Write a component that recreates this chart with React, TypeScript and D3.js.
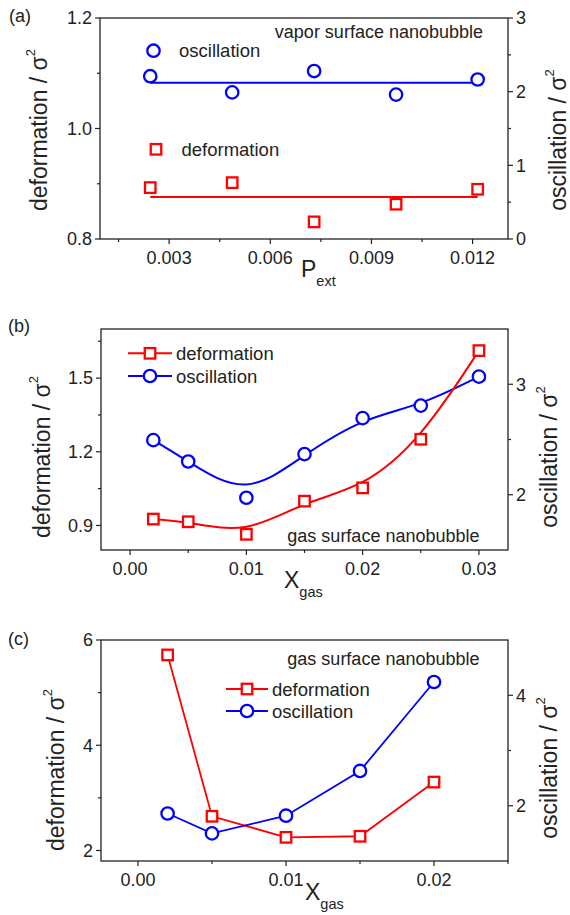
import React from "react";
import * as d3 from "d3";

// ---------- Panel (a): vapor surface nanobubble ----------
const aPext = [0.00244, 0.00487, 0.0073, 0.00973, 0.01215];
const aDeformation = [0.893, 0.902, 0.831, 0.863, 0.89];
const aOscillation = [2.21, 1.99, 2.28, 1.96, 2.165];
const aLeftTicks = [0.8, 1.0, 1.2];
const aLeftMinor = [0.9, 1.1];
const aRightTicks = [0, 1, 2, 3];
const aRightMinor = [0.5, 1.5, 2.5];
const aXTicks = [0.003, 0.006, 0.009, 0.012];
const aXMinor = [0.0015, 0.0045, 0.0075, 0.0105];

// ---------- Panel (b): gas surface nanobubble (fitted) ----------
const bXgas = [0.002, 0.005, 0.01, 0.015, 0.02, 0.025, 0.03];
const bDeformation = [0.926, 0.915, 0.864, 0.999, 1.053, 1.251, 1.612];
const bOscillation = [2.494, 2.301, 1.973, 2.368, 2.693, 2.807, 3.069];
const bLeftTicks = [0.9, 1.2, 1.5];
const bLeftMinor = [1.05, 1.35, 1.65];
const bRightTicks = [2, 3];
const bRightMinor = [2.5];
const bXTicks = [0, 0.01, 0.02, 0.03];
const bXMinor = [0.005, 0.015, 0.025];

// ---------- Panel (c): gas surface nanobubble ----------
const cXgas = [0.002, 0.005, 0.01, 0.015, 0.02];
const cDeformation = [5.716, 2.65, 2.25, 2.27, 3.3];
const cOscillation = [1.86, 1.5, 1.82, 2.63, 4.24];
const cLeftTicks = [2, 4, 6];
const cLeftMinor = [3, 5];
const cRightTicks = [2, 4];
const cRightMinor = [3];
const cXTicks = [0, 0.01, 0.02];
const cXMinor = [0.005, 0.015, 0.025];

const RED = "#ff0000";
const BLUE = "#0000ff";
const INK = "#222";
const FONT = "'Liberation Sans', Arial, Helvetica, sans-serif";
const TICK_FS = 18;

type Frame = { l: number; r: number; t: number; b: number };

function Axes({
  f, x, yl, yr, xt, xm, ylt, ylm, yrt, yrm, xfmt, ylfmt, yrfmt,
}: any) {
  const maj = 5, min = 3;
  return (
    <g>
      <rect x={f.l} y={f.t} width={f.r - f.l} height={f.b - f.t} fill="none" stroke={INK} strokeWidth={1.3} />
      {xt.map((v: number) => (
        <g key={"xt" + v}>
          <line x1={x(v)} x2={x(v)} y1={f.b} y2={f.b + maj} stroke={INK} strokeWidth={1.2} />
          <text x={x(v)} y={f.b + 25} textAnchor="middle" fontSize={TICK_FS} fill={INK}>{xfmt(v)}</text>
        </g>
      ))}
      {xm.map((v: number) => (
        <line key={"xm" + v} x1={x(v)} x2={x(v)} y1={f.b} y2={f.b + min} stroke={INK} strokeWidth={1.2} />
      ))}
      {ylt.map((v: number) => (
        <g key={"yl" + v}>
          <line x1={f.l - maj} x2={f.l} y1={yl(v)} y2={yl(v)} stroke={INK} strokeWidth={1.2} />
          <text x={f.l - 8} y={yl(v) + 6.3} textAnchor="end" fontSize={TICK_FS} fill={INK}>{ylfmt(v)}</text>
        </g>
      ))}
      {ylm.map((v: number) => (
        <line key={"ylm" + v} x1={f.l - min} x2={f.l} y1={yl(v)} y2={yl(v)} stroke={INK} strokeWidth={1.2} />
      ))}
      {yrt.map((v: number) => (
        <g key={"yr" + v}>
          <line x1={f.r} x2={f.r + maj} y1={yr(v)} y2={yr(v)} stroke={INK} strokeWidth={1.2} />
          <text x={f.r + 8} y={yr(v) + 6.3} textAnchor="start" fontSize={TICK_FS} fill={INK}>{yrfmt(v)}</text>
        </g>
      ))}
      {yrm.map((v: number) => (
        <line key={"yrm" + v} x1={f.r} x2={f.r + min} y1={yr(v)} y2={yr(v)} stroke={INK} strokeWidth={1.2} />
      ))}
    </g>
  );
}

const Sq = ({ cx, cy, s = 10.5 }: any) => (
  <rect x={cx - s / 2} y={cy - s / 2} width={s} height={s} fill="#fff" stroke={RED} strokeWidth={2.3} />
);
const Ci = ({ cx, cy, r = 6.2 }: any) => (
  <circle cx={cx} cy={cy} r={r} fill="#fff" stroke={BLUE} strokeWidth={2.3} />
);

function YTitle({ x, y, label }: any) {
  return (
    <text transform={`translate(${x},${y}) rotate(-90)`} textAnchor="middle" fontSize={23} fill={INK}>
      {label} / σ<tspan dy={-12} fontSize={13}>2</tspan>
    </text>
  );
}

function XTitle({ x, y, main, sub }: any) {
  return (
    <text x={x} y={y} fontSize={23} fill={INK}>
      {main}
      <tspan dy={9} fontSize={14.5}>{sub}</tspan>
    </text>
  );
}

export default function App() {
  // Panel A
  const fa: Frame = { l: 100, r: 508, t: 18, b: 239 };
  const xa = d3.scaleLinear().domain([0.00095, 0.01305]).range([fa.l, fa.r]);
  const yaL = d3.scaleLinear().domain([0.8, 1.2]).range([fa.b, fa.t]);
  const yaR = d3.scaleLinear().domain([0, 3]).range([fa.b, fa.t]);
  const aDefMean = d3.mean(aDeformation) as number;
  const aOscMean = d3.mean(aOscillation) as number;
  const xExt = d3.extent(aPext) as [number, number];

  // Panel B
  const fb: Frame = { l: 101, r: 508, t: 329, b: 550 };
  const xb = d3.scaleLinear().domain([-0.0025, 0.0325]).range([fb.l, fb.r]);
  const ybL = d3.scaleLinear().domain([0.8, 1.7]).range([fb.b, fb.t]);
  const ybR = d3.scaleLinear().domain([1.5, 3.5]).range([fb.b, fb.t]);
  const bDefLine = d3.line<number>().x((_, i) => xb(bXgas[i])).y((d) => ybL(d)).curve(d3.curveBasis);
  const bOscLine = d3.line<number>().x((_, i) => xb(bXgas[i])).y((d) => ybR(d)).curve(d3.curveBasis);

  // Panel C
  const fc: Frame = { l: 101, r: 508, t: 640, b: 861 };
  const xc = d3.scaleLinear().domain([-0.0025, 0.025]).range([fc.l, fc.r]);
  const ycL = d3.scaleLinear().domain([1.8, 6]).range([fc.b, fc.t]);
  const ycR = d3.scaleLinear().domain([1, 5]).range([fc.b, fc.t]);
  const cDefLine = d3.line<number>().x((_, i) => xc(cXgas[i])).y((d) => ycL(d));
  const cOscLine = d3.line<number>().x((_, i) => xc(cXgas[i])).y((d) => ycR(d));

  const f1 = d3.format(".1f");
  const f2 = d3.format(".2f");
  const f3 = d3.format(".3f");
  const f0 = d3.format("d");

  return (
    <svg width={570} height={915} style={{ position: "absolute", left: 0, top: 0, background: "#fff" }} fontFamily={FONT}>
      <rect width={570} height={915} fill="#fff" />

      {/* ===== (a) ===== */}
      <text x={9} y={22} fontSize={18} fill={INK}>(a)</text>
      <Axes f={fa} x={xa} yl={yaL} yr={yaR} xt={aXTicks} xm={aXMinor} ylt={aLeftTicks} ylm={aLeftMinor}
        yrt={aRightTicks} yrm={aRightMinor} xfmt={f3} ylfmt={f1} yrfmt={f0} />
      <line x1={xa(xExt[0])} x2={xa(xExt[1])} y1={yaR(aOscMean)} y2={yaR(aOscMean)} stroke={BLUE} strokeWidth={2} />
      <line x1={xa(xExt[0])} x2={xa(xExt[1])} y1={yaL(aDefMean)} y2={yaL(aDefMean)} stroke={RED} strokeWidth={2} />
      {aPext.map((v, i) => <Ci key={"ac" + i} cx={xa(v)} cy={yaR(aOscillation[i])} />)}
      {aPext.map((v, i) => <Sq key={"as" + i} cx={xa(v)} cy={yaL(aDeformation[i])} />)}
      <text x={483} y={37.5} textAnchor="end" fontSize={18} fill={INK}>vapor surface nanobubble</text>
      <Ci cx={153.5} cy={50.7} />
      <text x={179} y={57} fontSize={18.5} fill={INK}>oscillation</text>
      <Sq cx={156} cy={149.3} />
      <text x={181.5} y={156} fontSize={18.5} fill={INK}>deformation</text>
      <YTitle x={46.5} y={130} label="deformation" />
      <YTitle x={565.5} y={140} label="oscillation" />
      <XTitle x={301} y={276.7} main="P" sub="ext" />

      {/* ===== (b) ===== */}
      <text x={8} y={332} fontSize={18} fill={INK}>(b)</text>
      <Axes f={fb} x={xb} yl={ybL} yr={ybR} xt={bXTicks} xm={bXMinor} ylt={bLeftTicks} ylm={bLeftMinor}
        yrt={bRightTicks} yrm={bRightMinor} xfmt={f2} ylfmt={f1} yrfmt={f0} />
      <path d={bOscLine(bOscillation) || ""} fill="none" stroke={BLUE} strokeWidth={2} />
      <path d={bDefLine(bDeformation) || ""} fill="none" stroke={RED} strokeWidth={2} />
      {bXgas.map((v, i) => <Ci key={"bc" + i} cx={xb(v)} cy={ybR(bOscillation[i])} />)}
      {bXgas.map((v, i) => <Sq key={"bs" + i} cx={xb(v)} cy={ybL(bDeformation[i])} />)}
      <line x1={128} x2={172} y1={353.3} y2={353.3} stroke={RED} strokeWidth={2} />
      <Sq cx={150} cy={353.3} />
      <text x={176} y={359.5} fontSize={18.5} fill={INK}>deformation</text>
      <line x1={128} x2={172} y1={376} y2={376} stroke={BLUE} strokeWidth={2} />
      <Ci cx={150} cy={376} />
      <text x={176} y={382.5} fontSize={18.5} fill={INK}>oscillation</text>
      <text x={479.5} y={542} textAnchor="end" fontSize={18} fill={INK}>gas surface nanobubble</text>
      <YTitle x={49.5} y={457} label="deformation" />
      <YTitle x={556.7} y={457} label="oscillation" />
      <XTitle x={284} y={588.3} main="X" sub="gas" />

      {/* ===== (c) ===== */}
      <text x={8} y={645} fontSize={18} fill={INK}>(c)</text>
      <Axes f={fc} x={xc} yl={ycL} yr={ycR} xt={cXTicks} xm={cXMinor} ylt={cLeftTicks} ylm={cLeftMinor}
        yrt={cRightTicks} yrm={cRightMinor} xfmt={f2} ylfmt={f0} yrfmt={f0} />
      <path d={cDefLine(cDeformation) || ""} fill="none" stroke={RED} strokeWidth={1.8} />
      <path d={cOscLine(cOscillation) || ""} fill="none" stroke={BLUE} strokeWidth={1.8} />
      {cXgas.map((v, i) => <Sq key={"cs" + i} cx={xc(v)} cy={ycL(cDeformation[i])} />)}
      {cXgas.map((v, i) => <Ci key={"cc" + i} cx={xc(v)} cy={ycR(cOscillation[i])} />)}
      <text x={479.5} y={665} textAnchor="end" fontSize={18} fill={INK}>gas surface nanobubble</text>
      <line x1={226} x2={268} y1={689} y2={689} stroke={RED} strokeWidth={2} />
      <Sq cx={247} cy={689} />
      <text x={272} y={695.5} fontSize={18.5} fill={INK}>deformation</text>
      <line x1={226} x2={268} y1={711} y2={711} stroke={BLUE} strokeWidth={2} />
      <Ci cx={247} cy={711} />
      <text x={272} y={717.5} fontSize={18.5} fill={INK}>oscillation</text>
      <YTitle x={64} y={770} label="deformation" />
      <YTitle x={556.7} y={768} label="oscillation" />
      <XTitle x={305} y={900} main="X" sub="gas" />
    </svg>
  );
}
